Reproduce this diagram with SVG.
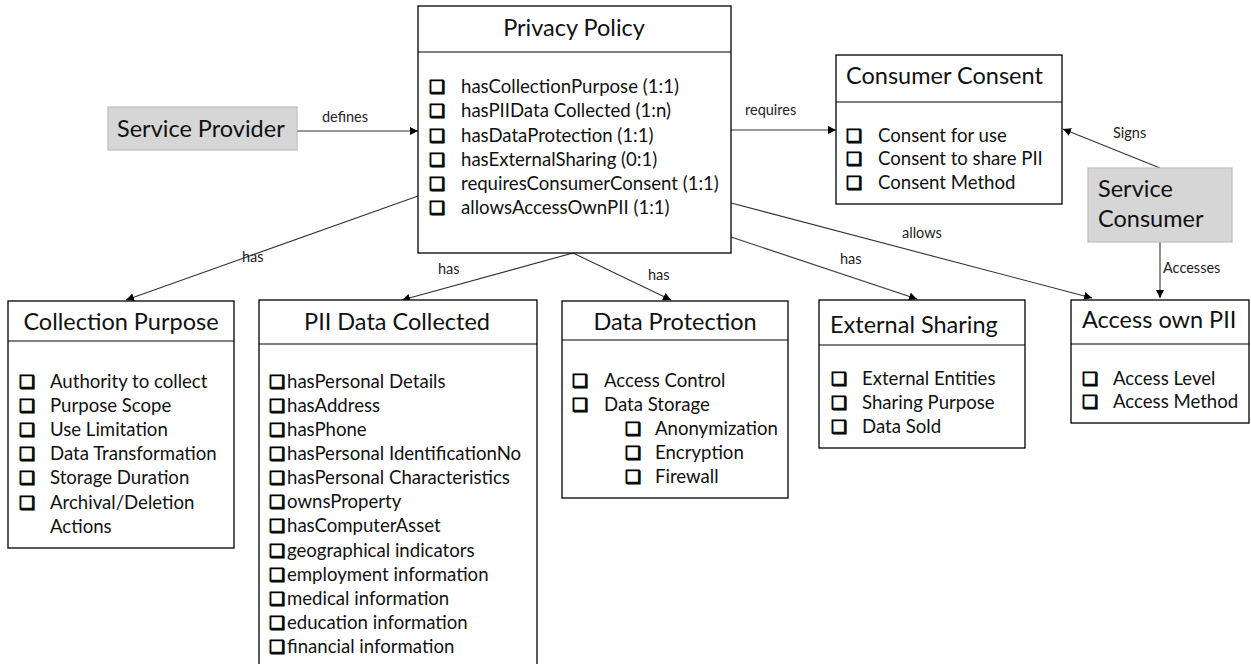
<svg xmlns="http://www.w3.org/2000/svg" width="1251" height="664" viewBox="0 0 1251 664">
<style>
.box{fill:#fff;stroke:#000;stroke-width:1.3}
.actor{fill:#d6d6d6;stroke:#bdbdbd;stroke-width:1.2}
.div{stroke:#000;stroke-width:1.1}
.t{font-family:Lato,"Liberation Sans",sans-serif;fill:#111}
.title{font-size:23.5px}
.item{font-size:18.6px}
.lbl{font-size:14.5px;fill:#222}
.cb{font-family:"DejaVu Sans",sans-serif;font-size:18px;stroke:#000;stroke-width:1}
.edge{stroke:#333;stroke-width:1.1;fill:none;marker-end:url(#ah)}
</style>
<defs>
<marker id="ah" viewBox="0 0 10 10" refX="10" refY="5" markerWidth="8" markerHeight="8" markerUnits="userSpaceOnUse" orient="auto">
<path d="M0,0 L10,5 L0,10 z" fill="#000"/>
</marker>
</defs>
<rect width="1251" height="664" fill="#fff"/>

<g id="connectors">
<line class="edge" x1="297" y1="131" x2="418" y2="131"/>
<line class="edge" x1="731" y1="130" x2="836" y2="130"/>
<line class="edge" x1="1160" y1="168" x2="1063" y2="129"/>
<line class="edge" x1="1160" y1="242" x2="1160" y2="298"/>
<line class="edge" x1="731" y1="203" x2="1092" y2="298"/>
<line class="edge" x1="731" y1="237" x2="917" y2="299"/>
<line class="edge" x1="573" y1="253" x2="671" y2="300"/>
<line class="edge" x1="573" y1="253" x2="402" y2="300"/>
<line class="edge" x1="418" y1="196" x2="126" y2="300"/>
<text class="t lbl" x="322" y="122">defines</text>
<text class="t lbl" x="745" y="115">requires</text>
<text class="t lbl" x="1113" y="138">Signs</text>
<text class="t lbl" x="1163" y="273">Accesses</text>
<text class="t lbl" x="902" y="238">allows</text>
<text class="t lbl" x="840" y="264">has</text>
<text class="t lbl" x="648" y="280">has</text>
<text class="t lbl" x="438" y="274">has</text>
<text class="t lbl" x="242" y="262">has</text>
</g>

<g id="service-provider">
<rect class="actor" x="108" y="107" width="189" height="43"/>
<text class="t title" x="117" y="137">Service Provider</text>
</g>

<g id="privacy-policy">
<rect class="box" x="418" y="6" width="313" height="247"/>
<line class="div" x1="418" y1="52" x2="731" y2="52"/>
<text class="t title" x="574" y="36" text-anchor="middle">Privacy Policy</text>
<text class="t item" y="93"><tspan class="cb" x="429">❑</tspan><tspan x="461">hasCollectionPurpose (1:1)</tspan></text>
<text class="t item" y="117"><tspan class="cb" x="429">❑</tspan><tspan x="461">hasPIIData Collected (1:n)</tspan></text>
<text class="t item" y="142"><tspan class="cb" x="429">❑</tspan><tspan x="461">hasDataProtection (1:1)</tspan></text>
<text class="t item" y="166"><tspan class="cb" x="429">❑</tspan><tspan x="461">hasExternalSharing (0:1)</tspan></text>
<text class="t item" y="190"><tspan class="cb" x="429">❑</tspan><tspan x="461">requiresConsumerConsent (1:1)</tspan></text>
<text class="t item" y="214"><tspan class="cb" x="429">❑</tspan><tspan x="461">allowsAccessOwnPII (1:1)</tspan></text>
</g>

<g id="consumer-consent">
<rect class="box" x="836" y="55" width="226" height="149"/>
<line class="div" x1="836" y1="102" x2="1062" y2="102"/>
<text class="t title" x="846" y="84">Consumer Consent</text>
<text class="t item" y="142"><tspan class="cb" x="846">❑</tspan><tspan x="878">Consent for use</tspan></text>
<text class="t item" y="165"><tspan class="cb" x="846">❑</tspan><tspan x="878">Consent to share PII</tspan></text>
<text class="t item" y="189"><tspan class="cb" x="846">❑</tspan><tspan x="878">Consent Method</tspan></text>
</g>

<g id="service-consumer">
<rect class="actor" x="1088" y="168" width="144" height="74"/>
<text class="t title" x="1098" y="197">Service</text>
<text class="t title" x="1098" y="227">Consumer</text>
</g>

<g id="collection-purpose">
<rect class="box" x="8" y="301" width="226" height="247"/>
<line class="div" x1="8" y1="341" x2="234" y2="341"/>
<text class="t title" x="121" y="330" text-anchor="middle">Collection Purpose</text>
<text class="t item" y="388"><tspan class="cb" x="19">❑</tspan><tspan x="50">Authority to collect</tspan></text>
<text class="t item" y="412"><tspan class="cb" x="19">❑</tspan><tspan x="50">Purpose Scope</tspan></text>
<text class="t item" y="436"><tspan class="cb" x="19">❑</tspan><tspan x="50">Use Limitation</tspan></text>
<text class="t item" y="460"><tspan class="cb" x="19">❑</tspan><tspan x="50">Data Transformation</tspan></text>
<text class="t item" y="484"><tspan class="cb" x="19">❑</tspan><tspan x="50">Storage Duration</tspan></text>
<text class="t item" y="509"><tspan class="cb" x="19">❑</tspan><tspan x="50">Archival/Deletion</tspan></text>
<text class="t item" x="50" y="533">Actions</text>
</g>

<g id="pii-data-collected">
<rect class="box" x="259" y="300" width="278" height="370"/>
<line class="div" x1="259" y1="344" x2="537" y2="344"/>
<text class="t title" x="397" y="330" text-anchor="middle">PII Data Collected</text>
<text class="t item" y="388"><tspan class="cb" x="269">❑</tspan><tspan x="287">hasPersonal Details</tspan></text>
<text class="t item" y="412"><tspan class="cb" x="269">❑</tspan><tspan x="287">hasAddress</tspan></text>
<text class="t item" y="436"><tspan class="cb" x="269">❑</tspan><tspan x="287">hasPhone</tspan></text>
<text class="t item" y="460"><tspan class="cb" x="269">❑</tspan><tspan x="287">hasPersonal IdentificationNo</tspan></text>
<text class="t item" y="484"><tspan class="cb" x="269">❑</tspan><tspan x="287">hasPersonal Characteristics</tspan></text>
<text class="t item" y="508"><tspan class="cb" x="269">❑</tspan><tspan x="287">ownsProperty</tspan></text>
<text class="t item" y="532"><tspan class="cb" x="269">❑</tspan><tspan x="287">hasComputerAsset</tspan></text>
<text class="t item" y="557"><tspan class="cb" x="269">❑</tspan><tspan x="287">geographical indicators</tspan></text>
<text class="t item" y="581"><tspan class="cb" x="269">❑</tspan><tspan x="287">employment information</tspan></text>
<text class="t item" y="605"><tspan class="cb" x="269">❑</tspan><tspan x="287">medical information</tspan></text>
<text class="t item" y="629"><tspan class="cb" x="269">❑</tspan><tspan x="287">education information</tspan></text>
<text class="t item" y="653"><tspan class="cb" x="269">❑</tspan><tspan x="287">financial information</tspan></text>
</g>

<g id="data-protection">
<rect class="box" x="562" y="301" width="226" height="197"/>
<line class="div" x1="562" y1="340" x2="788" y2="340"/>
<text class="t title" x="675" y="330" text-anchor="middle">Data Protection</text>
<text class="t item" y="387"><tspan class="cb" x="572">❑</tspan><tspan x="604">Access Control</tspan></text>
<text class="t item" y="411"><tspan class="cb" x="572">❑</tspan><tspan x="604">Data Storage</tspan></text>
<text class="t item" y="435"><tspan class="cb" x="625">❑</tspan><tspan x="655">Anonymization</tspan></text>
<text class="t item" y="459"><tspan class="cb" x="625">❑</tspan><tspan x="655">Encryption</tspan></text>
<text class="t item" y="483"><tspan class="cb" x="625">❑</tspan><tspan x="655">Firewall</tspan></text>
</g>

<g id="external-sharing">
<rect class="box" x="819" y="300" width="206" height="148"/>
<line class="div" x1="819" y1="345" x2="1025" y2="345"/>
<text class="t title" x="830" y="333">External Sharing</text>
<text class="t item" y="385"><tspan class="cb" x="831">❑</tspan><tspan x="862">External Entities</tspan></text>
<text class="t item" y="409"><tspan class="cb" x="831">❑</tspan><tspan x="862">Sharing Purpose</tspan></text>
<text class="t item" y="433"><tspan class="cb" x="831">❑</tspan><tspan x="862">Data Sold</tspan></text>
</g>

<g id="access-own-pii">
<rect class="box" x="1071" y="300" width="178" height="123"/>
<line class="div" x1="1071" y1="344" x2="1249" y2="344"/>
<text class="t title" x="1082" y="328">Access own PII</text>
<text class="t item" y="385"><tspan class="cb" x="1082">❑</tspan><tspan x="1113">Access Level</tspan></text>
<text class="t item" y="408"><tspan class="cb" x="1082">❑</tspan><tspan x="1113">Access Method</tspan></text>
</g>
</svg>
